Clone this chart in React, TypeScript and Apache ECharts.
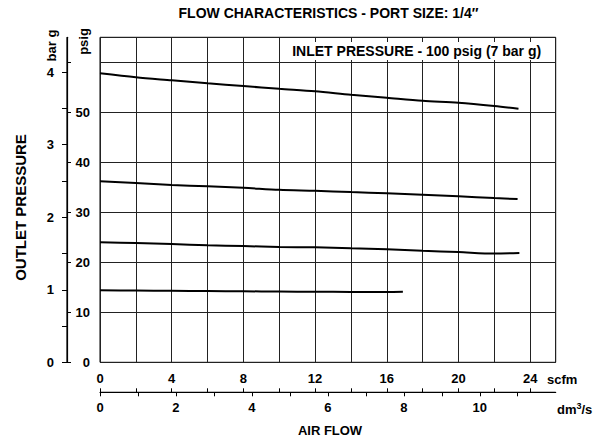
import React, { useEffect, useRef } from "react";
import * as echarts from "echarts";

const FONT = '"Liberation Sans", Arial, Helvetica, sans-serif';

// axis scales
const PSIG_PER_BAR = 14.5038;
const DM3S_PER_SCFM = 0.4719474;
const DM3S_MAX = 12;
const PSIG_MAX = 65;

const scfmTicks = [0, 2, 4, 6, 8, 10, 12, 14, 16, 18, 20, 22, 24];
const scfmLabels = [0, 4, 8, 12, 16, 20, 24];
const dm3sTicks = [0, 1, 2, 3, 4, 5, 6, 7, 8, 9, 10, 11];
const dm3sLabels = [0, 2, 4, 6, 8, 10];
const psigTicks = [0, 10, 20, 30, 40, 50, 60];
const psigLabels = [0, 10, 20, 30, 40, 50];
const barTicks = [0, 0.5, 1, 1.5, 2, 2.5, 3, 3.5, 4];
const barLabels = [0, 1, 2, 3, 4];

// curves (flow in scfm, outlet pressure in psig)
const flowA = [0, 2, 4, 6, 8, 10, 12, 14, 16, 18, 20, 22, 23.35];
const pressA = [57.8, 57.0, 56.4, 55.8, 55.25, 54.7, 54.2, 53.5, 52.9, 52.3, 51.9, 51.25, 50.7];
const flowB = [0, 2, 4, 6, 8, 10, 12, 14, 16, 18, 20, 22, 23.3];
const pressB = [36.2, 35.85, 35.45, 35.2, 34.9, 34.5, 34.3, 34.05, 33.8, 33.5, 33.2, 32.85, 32.65];
const flowC = [0, 2, 4, 6, 8, 10, 12, 14, 16, 18, 20, 22, 23.4];
const pressC = [24.0, 23.85, 23.65, 23.4, 23.25, 23.05, 23.0, 22.8, 22.6, 22.3, 22.05, 21.75, 21.85];
const flowD = [0, 2, 4, 6, 8, 10, 12, 14, 16, 16.9];
const pressD = [14.4, 14.35, 14.3, 14.25, 14.2, 14.15, 14.1, 14.08, 14.06, 14.1];

const zip = (xs: number[], ys: number[]) => xs.map((x, i) => [x, ys[i]]);

const labelStyle = { fontFamily: FONT, fontWeight: "bold" as const, fontSize: 13, color: "#000" };

// layout
const GRID_LEFT = 100;
const GRID_RIGHT = 39.3;
const GRID_TOP = 37.3;
const GRID_BOTTOM = 75.7;
const LEFT_OFFSET = 33;
const BOTTOM_OFFSET = 30;
const W = 595;
const H = 438;

export default function App() {
  const ref = useRef<HTMLDivElement>(null);
  useEffect(() => {
    if (!ref.current) return;
    const chart = echarts.init(ref.current, undefined, { renderer: "svg" });
    const scfmMax = DM3S_MAX / DM3S_PER_SCFM;
    const barMax = PSIG_MAX / PSIG_PER_BAR;
    const axisX = GRID_LEFT - LEFT_OFFSET;
    const axisY = H - GRID_BOTTOM + BOTTOM_OFFSET;
    const lineSeries = (xs: number[], ys: number[]) => ({
      type: "line",
      data: zip(xs, ys),
      xAxisIndex: 0,
      yAxisIndex: 0,
      showSymbol: false,
      symbol: "none",
      smooth: 0.3,
      lineStyle: { color: "#000", width: 2 },
      z: 5,
    });
    chart.setOption({
      animation: false,
      grid: {
        left: GRID_LEFT,
        right: GRID_RIGHT,
        top: GRID_TOP,
        bottom: GRID_BOTTOM,
      },
      xAxis: [
        {
          type: "value",
          min: 0,
          max: scfmMax,
          interval: 2,
          axisLine: { show: false, onZero: false },
          axisTick: { show: false },
          splitLine: { show: true, lineStyle: { color: "#222", width: 1 } },
          axisLabel: { ...labelStyle, customValues: scfmLabels, margin: 10, lineHeight: 13 },
        },
        {
          type: "value",
          min: 0,
          max: scfmMax,
          position: "bottom",
          offset: BOTTOM_OFFSET,
          axisLine: { show: true, onZero: false, lineStyle: { color: "#000", width: 1.2 } },
          axisTick: { show: true, inside: true, length: 4, customValues: scfmTicks, lineStyle: { color: "#000" } },
          axisLabel: { show: false },
          splitLine: { show: false },
        },
        {
          type: "value",
          min: 0,
          max: DM3S_MAX,
          position: "bottom",
          offset: BOTTOM_OFFSET,
          axisLine: { show: false, onZero: false },
          axisTick: { show: true, inside: false, length: 4, customValues: dm3sTicks, lineStyle: { color: "#000" } },
          axisLabel: { ...labelStyle, customValues: dm3sLabels, margin: 9, lineHeight: 13 },
          splitLine: { show: false },
        },
      ],
      yAxis: [
        {
          type: "value",
          min: 0,
          max: PSIG_MAX,
          interval: 10,
          axisLine: { show: false, onZero: false },
          axisTick: { show: false },
          splitLine: { show: true, lineStyle: { color: "#222", width: 1 } },
          axisLabel: { ...labelStyle, customValues: psigLabels, margin: 10 },
        },
        {
          type: "value",
          min: 0,
          max: barMax,
          position: "left",
          offset: LEFT_OFFSET,
          axisLine: { show: true, onZero: false, lineStyle: { color: "#000", width: 1.2 } },
          axisTick: { show: true, inside: false, length: 5, customValues: barTicks, lineStyle: { color: "#000" } },
          axisLabel: { ...labelStyle, customValues: barLabels, margin: 13 },
          splitLine: { show: false },
        },
        {
          type: "value",
          min: 0,
          max: PSIG_MAX,
          position: "left",
          offset: LEFT_OFFSET,
          axisLine: { show: false, onZero: false },
          axisTick: { show: true, inside: true, length: 4, customValues: psigTicks, lineStyle: { color: "#000" } },
          axisLabel: { show: false },
          splitLine: { show: false },
        },
      ],
      series: [
        lineSeries(flowA, pressA),
        lineSeries(flowB, pressB),
        lineSeries(flowC, pressC),
        lineSeries(flowD, pressD),
      ],
      graphic: [
        {
          type: "polyline",
          shape: { points: [[axisX, GRID_TOP], [axisX, H - GRID_BOTTOM]] },
          style: { stroke: "#000", lineWidth: 1.2, fill: null },
        },
        {
          type: "polyline",
          shape: { points: [[GRID_LEFT, axisY], [W - GRID_RIGHT, axisY]] },
          style: { stroke: "#000", lineWidth: 1.2, fill: null },
        },
        {
          type: "polyline",
          shape: {
            points: [
              [GRID_LEFT, GRID_TOP],
              [W - GRID_RIGHT, GRID_TOP],
              [W - GRID_RIGHT, H - GRID_BOTTOM],
              [GRID_LEFT, H - GRID_BOTTOM],
              [GRID_LEFT, GRID_TOP],
            ],
          },
          style: { stroke: "#000", lineWidth: 1, fill: null },
        },
        {
          type: "text",
          x: 328.5,
          y: 12.7,
          style: {
            text: "FLOW CHARACTERISTICS - PORT SIZE: 1/4\u2033",
            font: `bold 14px ${FONT}`,
            fill: "#000",
            align: "center",
            verticalAlign: "middle",
          },
        },
        {
          type: "text",
          x: 416.7,
          y: 51,
          z: 100,
          style: {
            text: "INLET PRESSURE - 100 psig (7 bar g)",
            font: `bold 14px ${FONT}`,
            fill: "#000",
            align: "center",
            verticalAlign: "middle",
            backgroundColor: "#fff",
            padding: [2, 3],
          },
        },
        {
          type: "text",
          x: 547,
          y: 379,
          style: { text: "scfm", font: `bold 13px ${FONT}`, fill: "#000", align: "left", verticalAlign: "middle" },
        },
        {
          type: "text",
          x: 557,
          y: 409,
          style: {
            text: "dm{sup|3}/s",
            font: `bold 13px ${FONT}`,
            fill: "#000",
            align: "left",
            verticalAlign: "middle",
            rich: {
              sup: { font: `bold 9px ${FONT}`, fill: "#000", verticalAlign: "top", padding: [0, 0, 6, 0] },
            },
          },
        },
        {
          type: "text",
          x: 330,
          y: 430,
          style: { text: "AIR FLOW", font: `bold 13px ${FONT}`, fill: "#000", align: "center", verticalAlign: "middle" },
        },
        {
          type: "text",
          x: 20,
          y: 207.5,
          rotation: Math.PI / 2,
          style: { text: "OUTLET PRESSURE", font: `bold 15px ${FONT}`, fill: "#000", align: "center", verticalAlign: "middle" },
        },
        {
          type: "text",
          x: 51.7,
          y: 45.5,
          rotation: Math.PI / 2,
          style: { text: "bar g", font: `bold 13px ${FONT}`, fill: "#000", align: "center", verticalAlign: "middle" },
        },
        {
          type: "text",
          x: 83.3,
          y: 41.5,
          rotation: Math.PI / 2,
          style: { text: "psig", font: `bold 13px ${FONT}`, fill: "#000", align: "center", verticalAlign: "middle" },
        },
      ],
    });
    return () => chart.dispose();
  }, []);
  return (
    <div
      ref={ref}
      style={{ position: "fixed", left: 0, top: 0, width: W, height: H, background: "#fff" }}
    />
  );
}
